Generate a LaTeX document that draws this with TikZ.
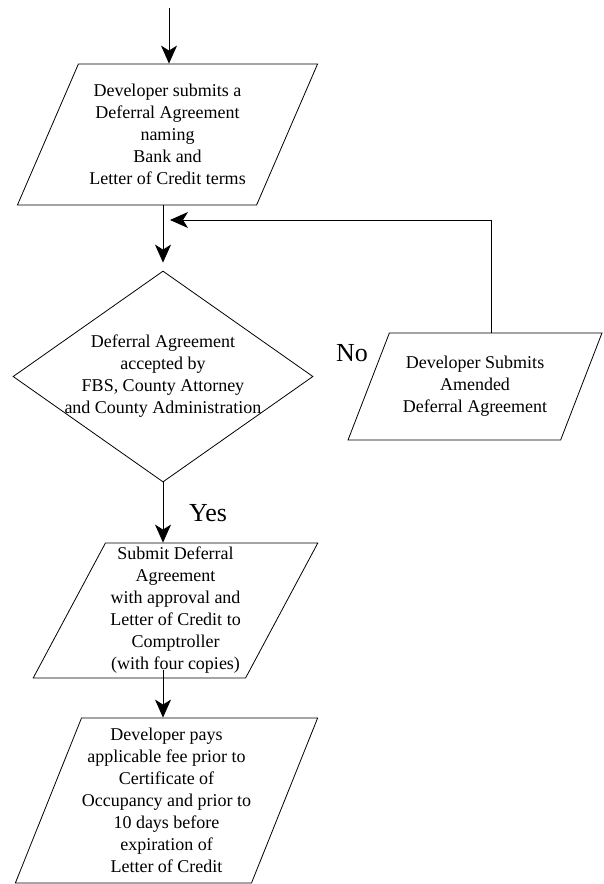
\documentclass[tikz,border=0pt]{standalone}
\usepackage{fontspec}
\setmainfont{Liberation Serif}
\usetikzlibrary{shapes.geometric,arrows.meta,calc}

\begin{document}
\begin{tikzpicture}[
		x=1pt, y=-1pt,
		font=\fontsize{18}{22}\selectfont,
		para/.style={draw, trapezium, trapezium stretches=true, align=center,
			inner sep=0pt, line width=0.8pt},
		decide/.style={draw, diamond, aspect=1.42, align=center, inner sep=-6pt, line width=0.8pt},
		lbl/.style={font=\fontsize{26}{30}\selectfont, inner sep=0pt},
		arr/.style={-{Stealth[length=18pt,width=16pt,inset=5pt]}, line width=0.8pt}
		]
		\useasboundingbox (0,0) rectangle (603,884);
		\node[para, trapezium left angle=62, trapezium right angle=118,
			minimum width=301pt, minimum height=141pt] (submit) at (167.5,134.5)
		{Developer submits a\\ Deferral Agreement\\ naming\\ Bank and\\ Letter of Credit terms};
		\node[decide, minimum width=300pt, minimum height=211pt] (accept) at (163,376.5)
		{Deferral Agreement\\ accepted by\\ FBS, County Attorney\\ and County Administration};
		\node[para, trapezium left angle=60, trapezium right angle=120,
			minimum width=254pt, minimum height=107pt] (amend) at (475,386.5)
		{Developer Submits\\ Amended\\ Deferral Agreement};
		\node[para, trapezium left angle=62, trapezium right angle=118,
			minimum width=285pt, minimum height=135pt] (comp) at (175.5,610.5)
		{Submit Deferral\\ Agreement\\ with approval and\\ Letter of Credit to\\ Comptroller\\ (with four copies)};
		\node[para, trapezium left angle=65.5, trapezium right angle=114.5,
			minimum width=303pt, minimum height=165pt] (pay) at (166.5,800.5)
		{Developer pays\\ applicable fee prior to\\ Certificate of\\ Occupancy and prior to\\ 10 days before\\ expiration of\\ Letter of Credit};
		\node[lbl] (no) at (352,353) {No};
		\node[lbl] (yes) at (208,513) {Yes};
		\coordinate (start) at (169,8);
		\coordinate (join) at (163,220);
		\draw[arr] (start) -- (start |- submit.north);
		\draw[arr, shorten >=8pt] (submit.south -| accept.north) -- (accept.north);
		\draw[arr, shorten >=7pt] ($(amend.north)+(16,0)$) |- (join);
		\draw[arr] (accept.south) -- (accept.south |- comp.north);
		\draw[arr] ([yshift=8pt]comp.south -| accept.south) -- (pay.north -| accept.south);
	\end{tikzpicture}
\end{document}
